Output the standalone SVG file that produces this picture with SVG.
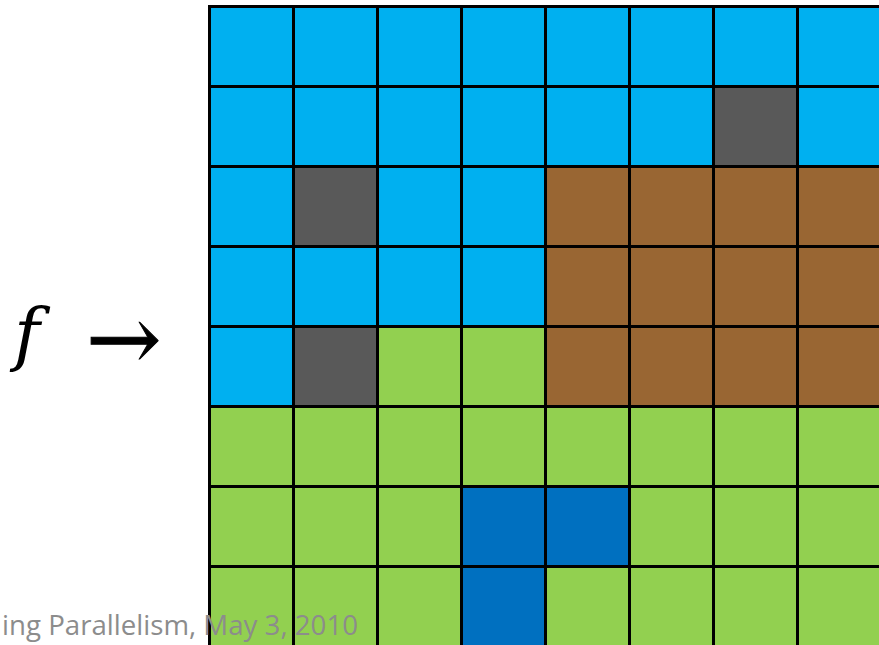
<svg xmlns="http://www.w3.org/2000/svg" width="879" height="645" viewBox="0 0 879 645">
<style>
.lb{fill:#00B0F0}.gy{fill:#595959}.br{fill:#996633}.gr{fill:#92D050}.db{fill:#0070C0}
.grid line{stroke:#000;stroke-width:3}
.math{font-family:"DejaVu Serif",serif;font-style:italic;fill:#000}
.arr{font-family:"DejaVu Serif",serif;fill:#000}
.foot{font-family:"Open Sans","Liberation Sans",sans-serif;font-size:28px;fill:#8C8C8C}
</style>
<rect width="879" height="645" fill="#fff"/>
<g id="cells">
<rect class="lb" x="209.5" y="6.5" width="672" height="400"/>
<rect class="br" x="545.5" y="166.5" width="336" height="240"/>
<rect class="gr" x="209.5" y="406.5" width="672" height="240"/>
<rect class="gr" x="377.5" y="326.5" width="168" height="80"/>
<rect class="gy" x="713.5" y="86.5" width="84" height="80"/>
<rect class="gy" x="293.5" y="166.5" width="84" height="80"/>
<rect class="gy" x="293.5" y="326.5" width="84" height="80"/>
<rect class="db" x="461.5" y="486.5" width="168" height="80"/>
<rect class="db" x="461.5" y="566.5" width="84" height="80"/>
</g>
<g id="grid" class="grid">
<line x1="209.5" y1="5" x2="209.5" y2="645"/>
<line x1="293.5" y1="5" x2="293.5" y2="645"/>
<line x1="377.5" y1="5" x2="377.5" y2="645"/>
<line x1="461.5" y1="5" x2="461.5" y2="645"/>
<line x1="545.5" y1="5" x2="545.5" y2="645"/>
<line x1="629.5" y1="5" x2="629.5" y2="645"/>
<line x1="713.5" y1="5" x2="713.5" y2="645"/>
<line x1="797.5" y1="5" x2="797.5" y2="645"/>
<line x1="208" y1="6.5" x2="879" y2="6.5"/>
<line x1="208" y1="86.5" x2="879" y2="86.5"/>
<line x1="208" y1="166.5" x2="879" y2="166.5"/>
<line x1="208" y1="246.5" x2="879" y2="246.5"/>
<line x1="208" y1="326.5" x2="879" y2="326.5"/>
<line x1="208" y1="406.5" x2="879" y2="406.5"/>
<line x1="208" y1="486.5" x2="879" y2="486.5"/>
<line x1="208" y1="566.5" x2="879" y2="566.5"/>
</g>
<g id="label">
<text class="math" x="14" y="358" font-size="70">f</text>
<text class="arr" x="86" y="370" font-size="90" stroke="#000" stroke-width="1">→</text>
</g>
<text class="foot" x="2" y="635" textLength="356" lengthAdjust="spacingAndGlyphs">ing Parallelism, May 3, 2010</text>
</svg>
